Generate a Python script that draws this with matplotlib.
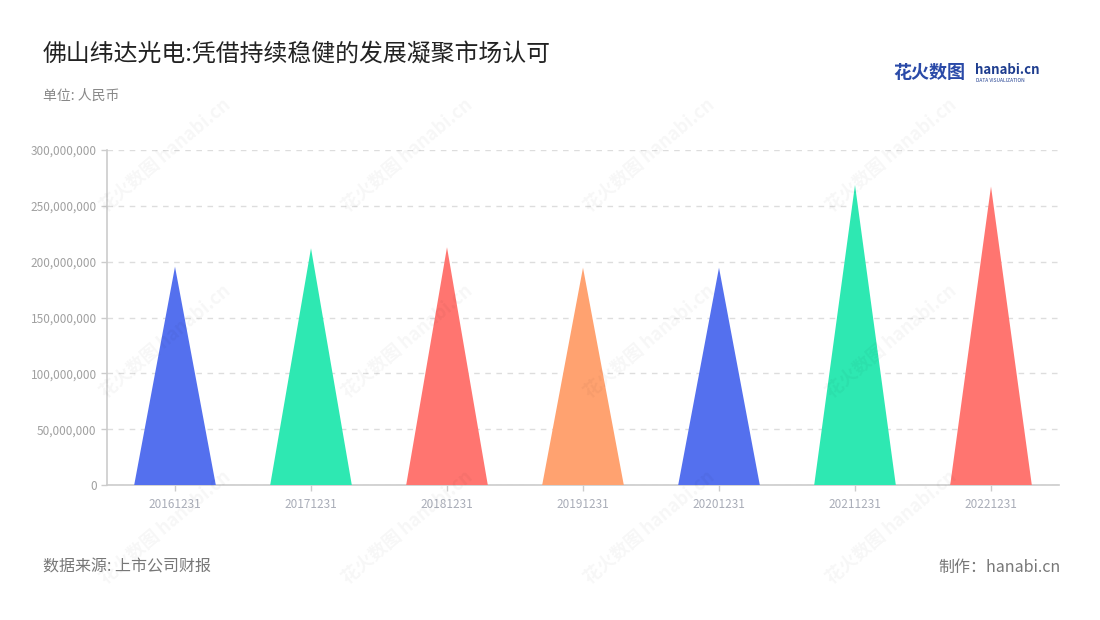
import matplotlib
matplotlib.use("Agg")
import matplotlib.pyplot as plt
from matplotlib.ticker import FuncFormatter, MultipleLocator

plt.rcParams['font.family'] = ['Noto Sans CJK SC', 'DejaVu Sans']

categories = ["20161231", "20171231", "20181231", "20191231", "20201231", "20211231", "20221231"]
values = [195.5e6, 212.0e6, 212.9e6, 194.6e6, 194.6e6, 268.7e6, 267.3e6]
colors = ["#5470ee", "#2ee8b2", "#ff7570", "#ffa270", "#5470ee", "#2ee8b2", "#ff7570"]

title = "佛山纬达光电:凭借持续稳健的发展凝聚市场认可"
unit = "单位: 人民币"
source = "数据来源: 上市公司财报"
maker = "制作：hanabi.cn"

fig = plt.figure(figsize=(11, 6.2), dpi=100)
ax = fig.add_axes([107/1100, 1-485/620, (1059-107)/1100, (485-150)/620])

half = 0.3
for i, (v, c) in enumerate(zip(values, colors)):
    ax.fill([i - half, i, i + half], [0, v, 0], color=c, linewidth=0, zorder=3)

ax.set_xlim(-0.5, len(categories) - 0.5)
ax.set_ylim(0, 300e6)
ax.yaxis.set_major_locator(MultipleLocator(50e6))
ax.yaxis.set_major_formatter(FuncFormatter(lambda v, p: f"{int(v):,}"))
ax.set_xticks(range(len(categories)))
ax.set_xticklabels(categories)

ax.grid(axis='y', color='#dddddd', linestyle=(0, (4, 4)), linewidth=1, zorder=0)
for s in ['top', 'right']:
    ax.spines[s].set_visible(False)
for s in ['left', 'bottom']:
    ax.spines[s].set_color('#cccccc')
    ax.spines[s].set_linewidth(1.2)
ax.tick_params(axis='y', colors='#cccccc', labelcolor='#a0a0a0', labelsize=8.5, length=4, width=1)
ax.tick_params(axis='x', colors='#cccccc', labelcolor='#a9adb8', labelsize=8.5, length=4, width=1, pad=5)

# watermarks
for wx in [0.15, 0.37, 0.59, 0.81]:
    for wy in [0.75, 0.45, 0.15]:
        fig.text(wx, wy, "花火数图 hanabi.cn", rotation=40, fontsize=13, color='#000000', alpha=0.035,
                 ha='center', va='center', fontweight='bold')

fig.text(43/1100, 1-55/620, title, fontsize=17.2, color='#222222', va='center', ha='left')
fig.text(43/1100, 1-96/620, unit, fontsize=10, color='#888888', va='center', ha='left')
fig.text(43/1100, 1-567/620, source, fontsize=11.5, color='#777777', va='center', ha='left')
fig.text(1061/1100, 1-567/620, maker, fontsize=11.5, color='#777777', va='center', ha='right')

# logo
fig.text(893/1100, 1-73/620, "花火数图", fontsize=13, color='#2a4aa8', va='center', ha='left', fontweight='bold')
fig.text(975/1100, 1-70/620, "hanabi.cn", fontsize=9.5, color='#1e3d8f', va='center', ha='left', fontweight='bold')
fig.text(976/1100, 1-80/620, "DATA VISUALIZATION", fontsize=3.5, color='#1e3d8f', va='center', ha='left')

fig.savefig("out.png", dpi=100, facecolor='white')
